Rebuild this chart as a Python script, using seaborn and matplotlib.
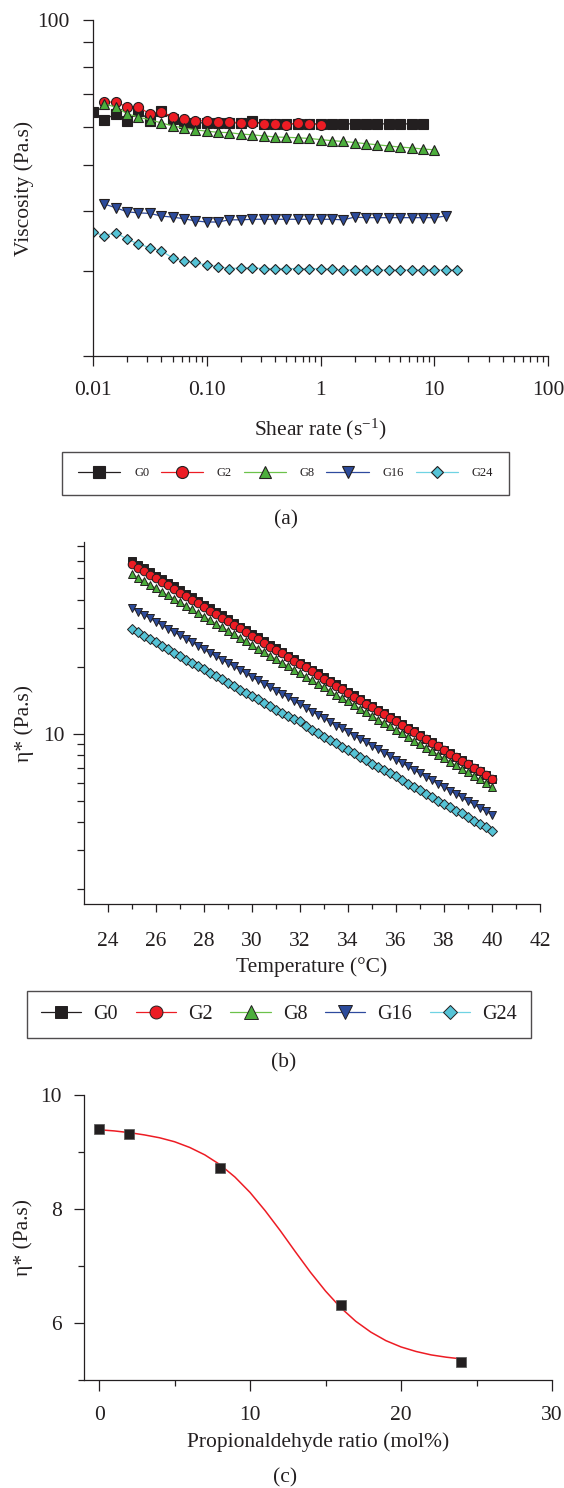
import matplotlib
matplotlib.use("Agg")
import matplotlib.pyplot as plt
import seaborn as sns
import numpy as np
from matplotlib.ticker import FixedLocator, FixedFormatter, NullFormatter, NullLocator, LogLocator

# ---------------- data ----------------
series_names = ["G0", "G2", "G8", "G16", "G24"]

# (a) steady shear viscosity
shear_rate = [0.0100, 0.0126, 0.0158, 0.0200, 0.0251, 0.0316, 0.0398, 0.0501, 0.0631, 0.0794,
              0.100, 0.126, 0.158, 0.200, 0.251, 0.316, 0.398, 0.501, 0.631, 0.794,
              1.00, 1.26, 1.58, 2.00, 2.51, 3.16, 3.98, 5.01, 6.31, 7.94,
              10.0, 12.6, 15.8]
rate_G0 = shear_rate[0:30]
rate_G2 = shear_rate[1:21]
rate_G8 = shear_rate[1:31]
rate_G16 = shear_rate[1:32]
rate_G24 = shear_rate[0:33]

visc_G0 = [64.4, 62.0, 63.8, 61.7, 64.7, 61.7, 64.7, 62.2, 61.1, 61.1,
           61.1, 61.1, 61.1, 61.1, 61.7, 60.8, 60.8, 60.8, 60.8, 60.8,
           60.8, 60.8, 60.8, 60.8, 60.8, 60.8, 60.8, 60.8, 60.8, 60.8]
visc_G2 = [67.5, 67.5, 65.9, 65.9, 63.8, 64.4, 62.9, 62.2, 61.7, 61.7,
           61.4, 61.4, 61.1, 61.1, 60.8, 60.8, 60.5, 61.2, 60.8, 60.5]
visc_G8 = [66.9, 65.9, 63.8, 62.8, 62.0, 61.1, 60.2, 59.6, 59.1, 58.7,
           58.4, 58.3, 57.9, 57.7, 57.4, 57.1, 57.0, 56.9, 56.7, 56.4,
           56.1, 55.9, 55.6, 55.3, 55.0, 54.7, 54.4, 54.2, 53.9, 53.7]
visc_G16 = [41.4, 40.7, 39.9, 39.7, 39.6, 39.1, 38.9, 38.6, 38.2, 38.0,
            38.0, 38.4, 38.4, 38.5, 38.5, 38.5, 38.5, 38.5, 38.5, 38.5,
            38.5, 38.4, 38.9, 38.8, 38.8, 38.8, 38.8, 38.8, 38.8, 38.8, 39.1]
visc_G24 = [36.2, 35.6, 36.1, 35.0, 34.2, 33.6, 33.1, 32.0, 31.5, 31.3,
            30.9, 30.7, 30.4, 30.5, 30.5, 30.4, 30.4, 30.4, 30.4, 30.4,
            30.4, 30.3, 30.2, 30.2, 30.2, 30.2, 30.2, 30.2, 30.2, 30.2,
            30.2, 30.2, 30.2]

# (b) complex viscosity vs temperature
temperature = [25.0, 25.25, 25.5, 25.75, 26.0, 26.25, 26.5, 26.75, 27.0, 27.25,
               27.5, 27.75, 28.0, 28.25, 28.5, 28.75, 29.0, 29.25, 29.5, 29.75,
               30.0, 30.25, 30.5, 30.75, 31.0, 31.25, 31.5, 31.75, 32.0, 32.25,
               32.5, 32.75, 33.0, 33.25, 33.5, 33.75, 34.0, 34.25, 34.5, 34.75,
               35.0, 35.25, 35.5, 35.75, 36.0, 36.25, 36.5, 36.75, 37.0, 37.25,
               37.5, 37.75, 38.0, 38.25, 38.5, 38.75, 39.0, 39.25, 39.5, 39.75, 40.0]
eta_G0 = [59.8, 57.6, 55.5, 53.4, 51.5, 49.6, 47.8, 46.0, 44.3, 42.7,
          41.1, 39.6, 38.1, 36.7, 35.4, 34.1, 32.8, 31.6, 30.4, 29.3,
          28.2, 27.2, 26.2, 25.2, 24.3, 23.4, 22.5, 21.7, 20.9, 20.2,
          19.4, 18.7, 18.0, 17.3, 16.7, 16.1, 15.5, 14.9, 14.4, 13.8,
          13.3, 12.8, 12.4, 11.9, 11.5, 11.1, 10.6, 10.3, 9.88, 9.51,
          9.17, 8.83, 8.50, 8.19, 7.89, 7.60, 7.32, 7.05, 6.79, 6.54, 6.30]
eta_G2 = [58.0, 55.9, 53.9, 51.9, 50.1, 48.2, 46.5, 44.8, 43.1, 41.6,
          40.1, 38.6, 37.2, 35.8, 34.6, 33.3, 32.1, 30.9, 29.8, 28.7,
          27.6, 26.7, 25.7, 24.7, 23.9, 23.0, 22.1, 21.3, 20.6, 19.9,
          19.1, 18.4, 17.7, 17.1, 16.5, 15.9, 15.3, 14.7, 14.2, 13.7,
          13.2, 12.7, 12.3, 11.8, 11.4, 11.0, 10.5, 10.2, 9.82, 9.46,
          9.12, 8.79, 8.47, 8.16, 7.87, 7.58, 7.31, 7.04, 6.78, 6.54, 6.30]
eta_G8 = [52.3, 50.4, 48.6, 46.9, 45.2, 43.5, 42.0, 40.5, 39.0, 37.6,
          36.3, 34.9, 33.7, 32.5, 31.3, 30.2, 29.1, 28.0, 27.0, 26.1,
          25.1, 24.2, 23.4, 22.5, 21.7, 20.9, 20.2, 19.4, 18.7, 18.1,
          17.4, 16.8, 16.2, 15.6, 15.0, 14.5, 14.0, 13.5, 13.0, 12.5,
          12.1, 11.6, 11.2, 10.8, 10.4, 10.05, 9.69, 9.34, 9.00, 8.68,
          8.37, 8.07, 7.78, 7.50, 7.23, 6.97, 6.71, 6.47, 6.24, 6.02, 5.80]
eta_G16 = [36.8, 35.5, 34.3, 33.1, 31.9, 30.8, 29.7, 28.7, 27.7, 26.7,
           25.8, 24.9, 24.0, 23.1, 22.3, 21.6, 20.8, 20.1, 19.4, 18.7,
           18.0, 17.4, 16.8, 16.2, 15.6, 15.1, 14.6, 14.0, 13.6, 13.1,
           12.6, 12.2, 11.8, 11.3, 10.9, 10.6, 10.2, 9.83, 9.49, 9.16,
           8.84, 8.53, 8.23, 7.94, 7.66, 7.39, 7.14, 6.89, 6.64, 6.41,
           6.19, 5.97, 5.76, 5.56, 5.36, 5.18, 4.99, 4.82, 4.65, 4.49, 4.33]
eta_G24 = [29.6, 28.6, 27.6, 26.7, 25.8, 24.9, 24.0, 23.2, 22.4, 21.6,
           20.9, 20.2, 19.5, 18.8, 18.2, 17.6, 17.0, 16.4, 15.8, 15.3,
           14.8, 14.3, 13.8, 13.3, 12.8, 12.4, 12.0, 11.7, 11.4, 10.9,
           10.4, 10.07, 9.72, 9.39, 9.07, 8.76, 8.46, 8.17, 7.89, 7.62,
           7.36, 7.11, 6.90, 6.70, 6.48, 6.19, 5.97, 5.77, 5.57, 5.38,
           5.20, 5.02, 4.85, 4.68, 4.52, 4.40, 4.24, 4.07, 3.94, 3.80, 3.67]

# (c) complex viscosity vs propionaldehyde ratio
ratio = [0, 2, 8, 16, 24]
eta_ratio = [9.40, 9.31, 8.72, 6.32, 5.32]
fit_ratio = [0, 1, 2, 3, 4, 5, 6, 7, 8, 9, 10, 11, 12, 13, 14, 15, 16, 17, 18, 19, 20, 21, 22, 23, 24]
fit_eta = [9.39, 9.37, 9.34, 9.30, 9.25, 9.18, 9.08, 8.95, 8.78, 8.56, 8.29, 7.97, 7.62,
           7.25, 6.89, 6.56, 6.27, 6.03, 5.84, 5.69, 5.58, 5.50, 5.44, 5.40, 5.37]

# ---------------- style ----------------
sns.set_theme(style="ticks")
plt.rcParams["font.family"] = ["Liberation Serif", "DejaVu Serif"]
plt.rcParams["mathtext.fontset"] = "custom"
plt.rcParams["mathtext.rm"] = "Liberation Serif"
plt.rcParams["mathtext.it"] = "Liberation Serif:italic"

INK = "#231f20"
line_colors = ["#231f20", "#ed1c24", "#6cc24a", "#2e4a9e", "#6fd3e3"]
face_colors = ["#231f20", "#ed1c24", "#4cae3c", "#2c4b9b", "#55c3d6"]
markers = ["s", "o", "^", "v", "D"]
size_a = [6.8, 7.2, 7.2, 7.2, 5.2]
size_b = [6.0, 6.2, 6.4, 6.4, 4.6]

W, H = 564, 1488
fig = plt.figure(figsize=(W / 100, H / 100), dpi=100)


def style_axes(ax):
    for s in ["top", "right"]:
        ax.spines[s].set_visible(False)
    for s in ["left", "bottom"]:
        ax.spines[s].set_linewidth(0.9)
        ax.spines[s].set_color(INK)
    ax.tick_params(which="both", direction="out", colors=INK, width=0.9, labelsize=15.5)
    ax.set_facecolor("white")


# ---------------- panel (a) ----------------
axA = fig.add_axes([93 / W, 1 - 356 / H, 455 / W, 336 / H])
rates_a = [rate_G0, rate_G2, rate_G8, rate_G16, rate_G24]
vals_a = [visc_G0, visc_G2, visc_G8, visc_G16, visc_G24]
for i, name in enumerate(series_names):
    sns.lineplot(x=rates_a[i], y=vals_a[i], ax=axA, color=line_colors[i], linewidth=0.9,
                 marker=markers[i], markersize=size_a[i], markerfacecolor=face_colors[i],
                 markeredgecolor=INK, markeredgewidth=0.8, label=name, legend=False,
                 errorbar=None, sort=False)
axA.set_xscale("log")
axA.set_yscale("log")
axA.set_xlim(0.01, 100)
axA.set_ylim(20, 100)
axA.xaxis.set_major_locator(FixedLocator([0.01, 0.1, 1, 10, 100]))
axA.xaxis.set_major_formatter(FixedFormatter(["0.01", "0.10", "1", "10", "100"]))
axA.xaxis.set_minor_locator(LogLocator(base=10, subs=np.arange(2, 10)))
axA.xaxis.set_minor_formatter(NullFormatter())
axA.yaxis.set_major_locator(FixedLocator([20, 30, 40, 50, 60, 70, 80, 90, 100]))
axA.yaxis.set_major_formatter(FixedFormatter(["", "", "", "", "", "", "", "", "100"]))
axA.yaxis.set_minor_locator(NullLocator())
style_axes(axA)
axA.tick_params(axis="x", which="major", length=7, pad=11)
axA.tick_params(axis="x", which="minor", length=4)
axA.tick_params(axis="y", which="major", length=7, pad=10)
axA.set_ylabel("Viscosity (Pa.s)", fontsize=15.5, color=INK)
axA.yaxis.set_label_coords(-0.13, 0.5)
axA.set_xlabel(r"Shear rate (s$^{-1}$)", fontsize=15.5, color=INK)
axA.xaxis.set_label_coords(0.5, -0.18)

hA, lA = axA.get_legend_handles_labels()
legA = fig.legend(hA, lA, loc="center", ncol=5, mode="expand",
                  bbox_to_anchor=(56 / W, 1 - 497 / H, 459 / W, 47 / H),
                  frameon=True, fancybox=False, edgecolor=INK, fontsize=9,
                  handlelength=3.4, handletextpad=1.1, borderpad=1.25, markerscale=1.2)
legA.get_frame().set_linewidth(1.0)
for t in legA.get_texts():
    t.set_color(INK)

fig.text(286 / W, 1 - 520 / H, "(a)", ha="center", va="center", fontsize=15.5, color=INK)

# ---------------- panel (b) ----------------
axB = fig.add_axes([84 / W, 1 - 904 / H, 456 / W, 362 / H])
vals_b = [eta_G0, eta_G2, eta_G8, eta_G16, eta_G24]
for i, name in enumerate(series_names):
    sns.lineplot(x=temperature, y=vals_b[i], ax=axB, color=line_colors[i], linewidth=0.9,
                 marker=markers[i], markersize=size_b[i], markerfacecolor=face_colors[i],
                 markeredgecolor=INK, markeredgewidth=0.7, label=name, legend=False,
                 errorbar=None, sort=False)
axB.set_yscale("log")
axB.set_xlim(23, 42)
axB.set_ylim(1.72, 72.9)
axB.xaxis.set_major_locator(FixedLocator([24, 26, 28, 30, 32, 34, 36, 38, 40, 42]))
axB.xaxis.set_major_formatter(FixedFormatter(["24", "26", "28", "30", "32", "34", "36", "38", "40", "42"]))
axB.xaxis.set_minor_locator(FixedLocator([25, 27, 29, 31, 33, 35, 37, 39, 41]))
axB.yaxis.set_major_locator(FixedLocator([10]))
axB.yaxis.set_major_formatter(FixedFormatter(["10"]))
axB.yaxis.set_minor_locator(FixedLocator([2, 3, 4, 5, 6, 7, 8, 9, 20, 30, 40, 50, 60, 70]))
axB.yaxis.set_minor_formatter(NullFormatter())
style_axes(axB)
axB.tick_params(axis="x", which="major", length=6, pad=14)
axB.tick_params(axis="x", which="minor", length=3.5)
axB.tick_params(axis="y", which="major", length=8, pad=6)
axB.tick_params(axis="y", which="minor", length=5)
axB.set_ylabel("η* (Pa.s)", fontsize=15.5, color=INK)
axB.yaxis.set_label_coords(-0.11, 0.5)
axB.set_xlabel("Temperature (°C)", fontsize=15.5, color=INK)
axB.xaxis.set_label_coords(0.5, -0.148)

hB, lB = axB.get_legend_handles_labels()
legB = fig.legend(hB, lB, loc="center", ncol=5, mode="expand",
                  bbox_to_anchor=(17 / W, 1 - 1039 / H, 524 / W, 49 / H),
                  frameon=True, fancybox=False, edgecolor=INK, fontsize=14.5,
                  handlelength=2.0, handletextpad=0.6, borderpad=0.7, markerscale=1.5)
legB.get_frame().set_linewidth(1.0)
for t in legB.get_texts():
    t.set_color(INK)

fig.text(284 / W, 1 - 1063 / H, "(b)", ha="center", va="center", fontsize=15.5, color=INK)

# ---------------- panel (c) ----------------
axC = fig.add_axes([84 / W, 1 - 1380 / H, 468 / W, 285 / H])
sns.lineplot(x=fit_ratio, y=fit_eta, ax=axC, color="#ed1c24", linewidth=1.1,
             errorbar=None, sort=False, legend=False)
sns.scatterplot(x=ratio, y=eta_ratio, ax=axC, marker="s", s=44, color=INK,
                edgecolor="#555555", linewidth=0.5, zorder=3, legend=False)
axC.set_xlim(-1, 30)
axC.set_ylim(5, 10)
axC.xaxis.set_major_locator(FixedLocator([0, 10, 20, 30]))
axC.xaxis.set_minor_locator(FixedLocator([5, 15, 25]))
axC.yaxis.set_major_locator(FixedLocator([6, 8, 10]))
axC.yaxis.set_minor_locator(FixedLocator([5, 7, 9]))
style_axes(axC)
axC.tick_params(axis="x", which="major", length=8, pad=11)
axC.tick_params(axis="x", which="minor", length=4)
axC.tick_params(axis="y", which="major", length=7, pad=9)
axC.tick_params(axis="y", which="minor", length=4)
axC.set_ylabel("η* (Pa.s)", fontsize=15.5, color=INK)
axC.yaxis.set_label_coords(-0.108, 0.5)
axC.set_xlabel("Propionaldehyde ratio (mol%)", fontsize=15.5, color=INK)
axC.xaxis.set_label_coords(0.5, -0.185)

fig.text(285 / W, 1 - 1478 / H, "(c)", ha="center", va="center", fontsize=15.5, color=INK)

fig.savefig("out.png", dpi=100, facecolor="white")
